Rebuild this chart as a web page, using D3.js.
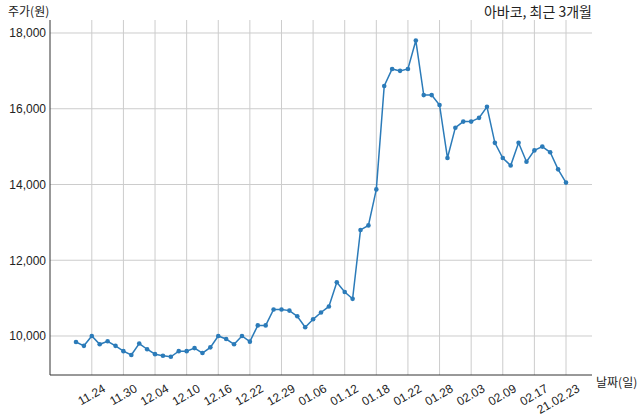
<!DOCTYPE html>
<html><head><meta charset="utf-8">
<script src="https://cdn.jsdelivr.net/npm/d3@7"></script>
<style>body{margin:0;background:#fff;font-family:"Noto Sans CJK KR","Noto Sans",sans-serif;}</style>
</head><body><svg id="chart" width="640" height="414"></svg>
<script>
// closing prices, one per trading day
const prices = [9840,9740,10000,9780,9860,9740,9600,9500,9800,9650,9520,9480,9450,9600,9600,9680,9550,9700,10000,9920,
  9780,10000,9850,10280,10280,10700,10700,10670,10520,10230,10440,10620,10780,11420,11160,10980,12800,12920,13870,16600,
  17050,17000,17050,17800,16360,16360,16100,14700,15500,15660,15660,15760,16050,15100,14700,14500,15100,14600,14900,15000,
  14850,14400,14050];
const tickIdx = [2,6,10,14,18,22,26,30,34,38,42,46,50,54,58,62];
const tickLabels = ['11.24','11.30','12.04','12.10','12.16','12.22','12.29','01.06','01.12','01.18','01.22','01.28','02.03','02.09','02.17','21.02.23'];
const yTicks = [10000,12000,14000,16000,18000];

const svg = d3.select('#chart');
const m = { left: 50, right: 592, top: 20, bottom: 375 };

const x = d3.scaleLinear().domain([0, 62]).range([76, 566]);
const y = d3.scaleLinear().domain([8970, 18343]).range([m.bottom, m.top]);

// grid
svg.append('g').selectAll('line').data(yTicks).join('line')
  .attr('x1', m.left).attr('x2', m.right).attr('y1', d => y(d)).attr('y2', d => y(d))
  .attr('stroke', '#ccc').attr('stroke-width', 1);
svg.append('g').selectAll('line').data(tickIdx).join('line')
  .attr('x1', d => x(d)).attr('x2', d => x(d)).attr('y1', m.top).attr('y2', m.bottom)
  .attr('stroke', '#ccc').attr('stroke-width', 1);

// axes
const xAxis = svg.append('g').attr('transform', `translate(0,${m.bottom})`)
  .call(d3.axisBottom(x).tickValues(tickIdx).tickFormat((d, i) => tickLabels[i]).tickSizeOuter(0).tickSize(0));
xAxis.select('.domain').attr('stroke', '#333').attr('d', `M${m.left},0H${m.right}`);
xAxis.selectAll('text').attr('font-size', 12).attr('fill', '#222')
  .attr('text-anchor', 'end').attr('dy', 0).attr('y', 0)
  .attr('transform', 'translate(14,16) rotate(-30)');

const yAxis = svg.append('g').attr('transform', `translate(${m.left},0)`)
  .call(d3.axisLeft(y).tickValues(yTicks).tickFormat(d3.format(',')).tickSize(0).tickPadding(4));
yAxis.select('.domain').attr('stroke', '#333').attr('d', `M0,${m.top}V${m.bottom}`);
yAxis.selectAll('text').attr('font-size', 12).attr('fill', '#222');

// line + points
const line = d3.line().x((d, i) => x(i)).y(d => y(d));
svg.append('path').datum(prices).attr('d', line)
  .attr('fill', 'none').attr('stroke', '#2b7bb9').attr('stroke-width', 1.5);
svg.append('g').selectAll('circle').data(prices).join('circle')
  .attr('cx', (d, i) => x(i)).attr('cy', d => y(d)).attr('r', 2.3).attr('fill', '#2b7bb9');

// labels
svg.append('text').attr('x', 8).attr('y', 16).attr('font-size', 12).attr('fill', '#222').text('주가(원)');
svg.append('text').attr('x', 592).attr('y', 17).attr('text-anchor', 'end').attr('font-size', 14).attr('fill', '#222').text('아바코, 최근 3개월');
svg.append('text').attr('x', 596).attr('y', 387).attr('font-size', 12).attr('fill', '#222').text('날짜(일)');
</script></body></html>
